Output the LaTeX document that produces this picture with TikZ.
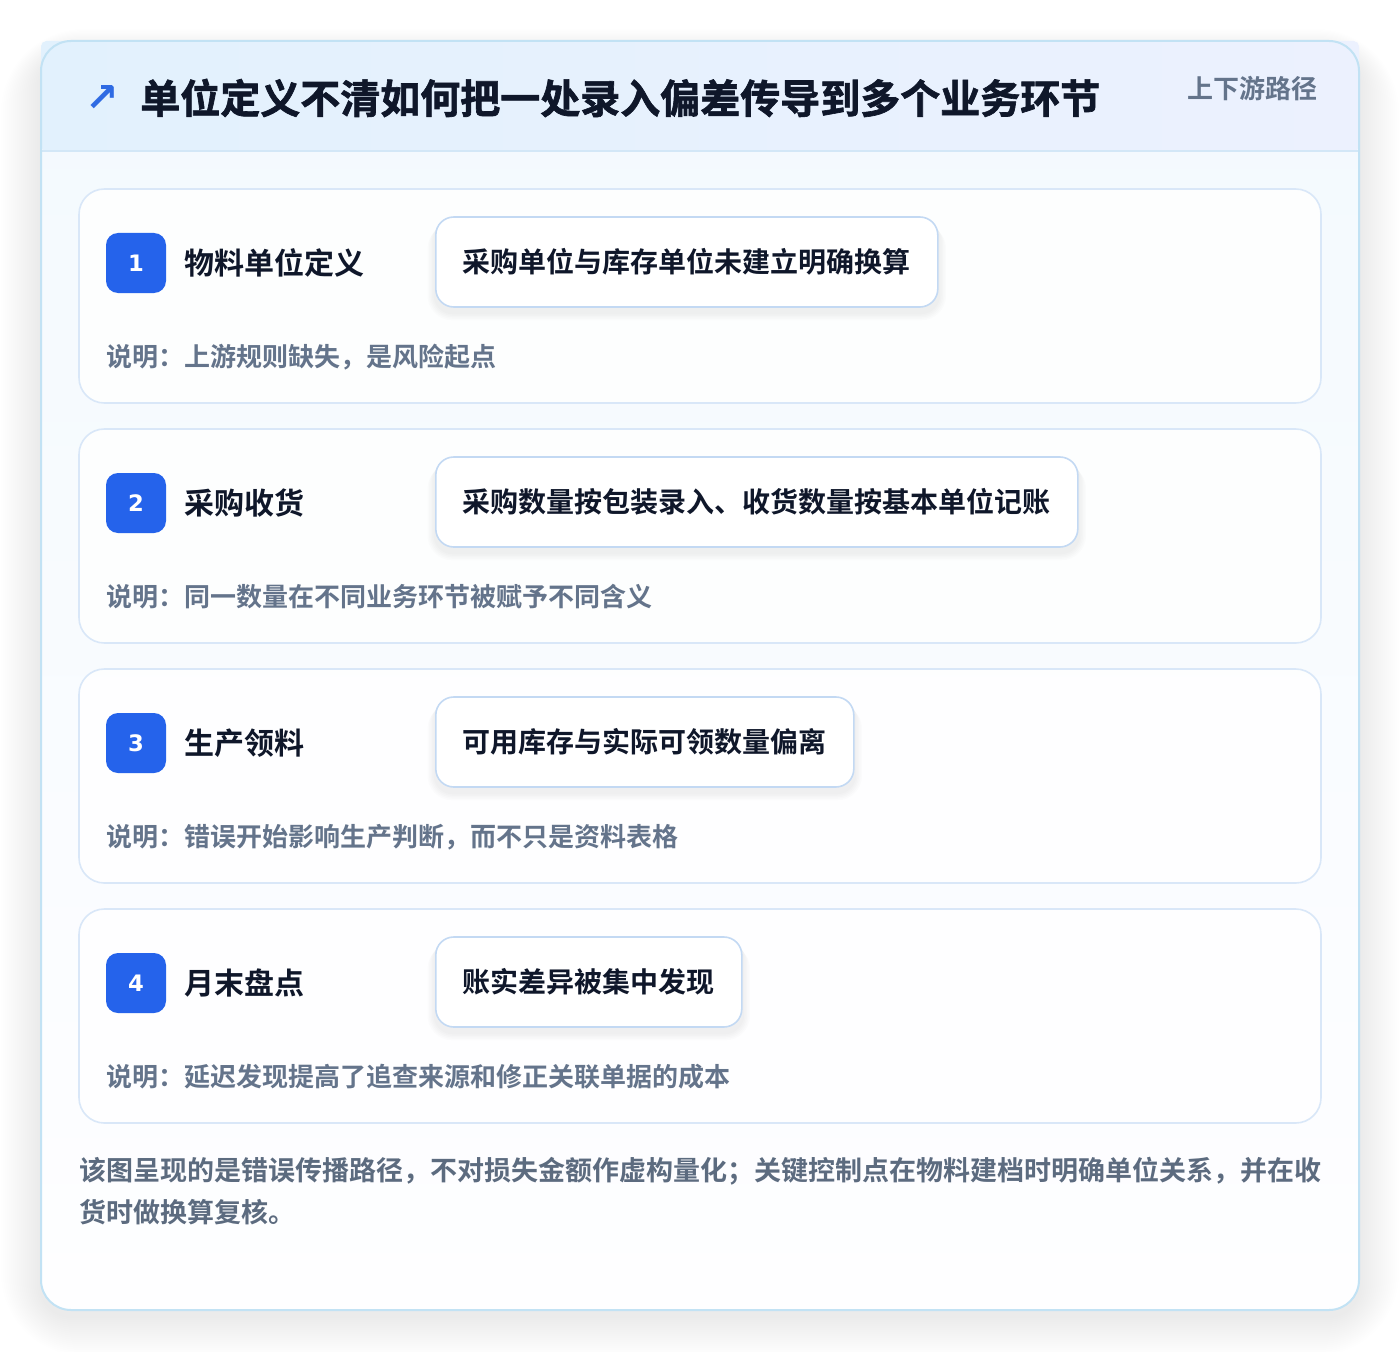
\documentclass[tikz,border=0pt]{standalone}
\usepackage{fontspec}
\setmainfont{Noto Sans CJK SC}[BoldFont={Noto Sans CJK SC Bold}]
\newfontfamily\cjkbold{Noto Sans CJK SC Bold}
\newfontfamily\cjkheavy{Noto Sans CJK SC Bold}[FakeBold=1.6]
\newfontfamily\symfont{DejaVu Sans}[BoldFont={DejaVu Sans Bold}]
\usetikzlibrary{positioning}

\definecolor{ink}{HTML}{0F172A}
\definecolor{muted}{HTML}{64748B}
\definecolor{footnote}{HTML}{5C6B7F}
\definecolor{badgeblue}{HTML}{2563EB}
\definecolor{arrowblue}{HTML}{2F6BE3}
\definecolor{outerline}{HTML}{C2E2F4}
\definecolor{cardline}{HTML}{D9E7F8}
\definecolor{boxline}{HTML}{C3D9F3}
\definecolor{headleft}{HTML}{E2F1FD}
\definecolor{headright}{HTML}{ECF1FE}
\definecolor{headline}{HTML}{D3E7F7}
\definecolor{bodytop}{HTML}{F3F9FE}
\definecolor{bodybottom}{HTML}{FEFEFF}
\definecolor{shadowgray}{HTML}{1E293B}

\pgfdeclarelayer{cards}
\pgfdeclarelayer{boxshadow}
\pgfsetlayers{cards,boxshadow,main}

\begin{document}
\begin{tikzpicture}
		[x=0.75pt,y=-0.75pt,
		stepcard/.style={
			draw=cardline,
			line width=1.2pt,
			fill=white,
			fill opacity=0.85,
			rounded corners=19pt
		},
		badge/.style={rectangle,rounded corners=9pt,fill=badgeblue,text=white,
			minimum size=45pt,inner sep=0pt,font=\symfont\fontsize{17pt}{18pt}\selectfont\bfseries},
		steptitle/.style={anchor=west,inner sep=0pt,text=ink,font=\cjkbold\fontsize{22.5pt}{26pt}\selectfont},
		factbox/.style={
			rectangle,
			rounded corners=13.5pt,
			draw=boxline,
			line width=1.2pt,
			fill=white,
			anchor=west,
			minimum height=67.5pt,
			inner xsep=20.25pt,
			text=ink,
			font=\cjkbold\fontsize{21pt}{24pt}\selectfont
		},
		note/.style={anchor=west,inner sep=0pt,text=muted,font=\cjkbold\fontsize{19.5pt}{22pt}\selectfont}]
		\useasboundingbox (0,0) rectangle (1400,1352);
		\begin{pgfonlayer}{cards}
			\fill[white] (0,0) rectangle (1400,1352);
			% soft shadow under the outer card
			\foreach \s in {1,...,20}
				\fill[shadowgray,opacity=0.0045,rounded corners=22.5pt+\s*2pt]
					(41-2*\s,41-1.2*\s+12) rectangle (1359+2*\s,1310+2*\s+6);
			\path[fill=white,rounded corners=22.5pt] (41,41) rectangle (1359,1310);
			\shade[rounded corners=22.5pt,top color=bodytop,bottom color=bodybottom]
				(41,41) rectangle (1359,1310);
			% header band
			\shade[left color=headleft,right color=headright,rounded corners=4pt] (41,41) rectangle (1359,151);
			\draw[headline,line width=1.2pt] (41,151) -- (1359,151);
			\draw[outerline,line width=1.5pt,rounded corners=22.5pt] (41,41) rectangle (1359,1310);
		\end{pgfonlayer}
		\node[anchor=center,text=arrowblue,inner sep=0pt,font=\symfont\fontsize{30pt}{32pt}\selectfont\bfseries] (icon) at (102,99) {↗};
		\node[anchor=west,inner sep=0pt,text=ink,font=\cjkheavy\fontsize{30pt}{34pt}\selectfont] (title) at (140,98) {单位定义不清如何把一处录入偏差传导到多个业务环节};
		\node[anchor=east,inner sep=0pt,text=muted,font=\cjkbold\fontsize{19.5pt}{22pt}\selectfont] (tag) at (1318,89) {上下游路径};
		% four steps
		\foreach \n/\top/\stage/\fact/\why in {
			1/189/物料单位定义/采购单位与库存单位未建立明确换算/说明：上游规则缺失，是风险起点,
			2/429/采购收货/采购数量按包装录入、收货数量按基本单位记账/说明：同一数量在不同业务环节被赋予不同含义,
			3/669/生产领料/可用库存与实际可领数量偏离/说明：错误开始影响生产判断，而不只是资料表格,
			4/909/月末盘点/账实差异被集中发现/说明：延迟发现提高了追查来源和修正关联单据的成本}
		{
			\begin{pgfonlayer}{cards}
				\path[stepcard] (79,\top) rectangle (1321,\top+214);
			\end{pgfonlayer}
			\node[badge] (badge\n) at (136,\top+74) {\n};
			\node[steptitle] (stage\n) at (184,\top+74) {\stage};
			\node[factbox] (fact\n) at (435,\top+73) {\fact};
			\begin{pgfonlayer}{boxshadow}
				\foreach \s in {1,...,5}
					\fill[shadowgray,opacity=0.01,rounded corners=13.5pt+\s*1pt]
						([shift={(-\s*1.5,2+\s*1.2)}]fact\n.north west) rectangle ([shift={(\s*1.5,5+\s*1.5)}]fact\n.south east);
			\end{pgfonlayer}
			\node[note] (why\n) at (106,\top+168) {\why};
		}
		\node[anchor=north west,inner sep=0pt,text=footnote,align=left,
			font=\cjkbold\fontsize{20.25pt}{31.5pt}\selectfont] (summary) at (79,1157)
			{该图呈现的是错误传播路径，不对损失金额作虚构量化；关键控制点在物料建档时明确单位关系，并在收\\货时做换算复核。};
\end{tikzpicture}
\end{document}
